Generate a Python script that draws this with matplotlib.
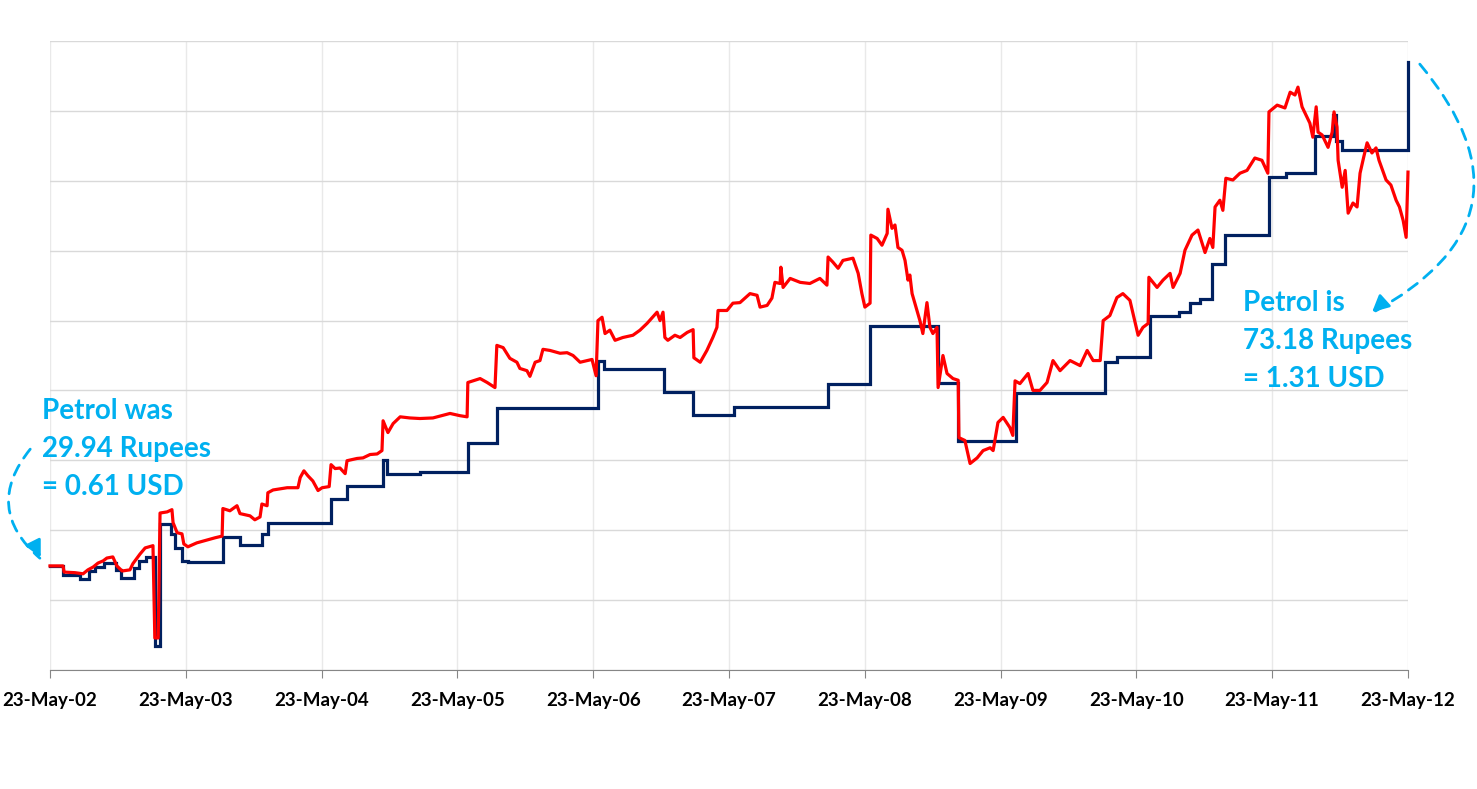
import numpy as np
import pandas as pd
import matplotlib.pyplot as plt
import matplotlib.dates as mdates
from matplotlib.patches import FancyArrowPatch

plt.rcParams['font.family'] = ['Lato', 'DejaVu Sans']

# petrol price in Delhi, Rupees per litre (step changes)
rs_dates = ['2002-05-23', '2002-06-27', '2002-08-12', '2002-09-05', '2002-09-21',
            '2002-10-15', '2002-11-17', '2002-11-30', '2003-01-04', '2003-01-17',
            '2003-02-05', '2003-03-01', '2003-03-15', '2003-04-13', '2003-04-24',
            '2003-05-13', '2003-05-29', '2003-08-31', '2003-10-16', '2003-12-14',
            '2003-12-30', '2004-06-17', '2004-07-30', '2004-11-04', '2004-11-15',
            '2005-02-12', '2005-06-21', '2005-09-07', '2006-06-06', '2006-06-20',
            '2006-11-30', '2007-02-16', '2007-06-06', '2008-02-15', '2008-06-07',
            '2008-12-06', '2009-01-29', '2009-07-04', '2010-02-28', '2010-04-01',
            '2010-06-29', '2010-09-15', '2010-10-15', '2010-11-10', '2010-12-14',
            '2011-01-16', '2011-05-14', '2011-07-01', '2011-09-17', '2011-11-04',
            '2011-11-12', '2011-11-28', '2012-05-23']
rs_price = [29.94, 29.17, 28.83, 29.51, 29.85, 30.20, 29.60, 28.91, 29.77, 30.37,
            30.71, 23.09, 33.54, 32.68, 31.48, 30.37, 30.28, 32.42, 31.74, 32.68,
            33.62, 35.67, 36.79, 39.01, 37.82, 37.99, 40.47, 43.46, 47.49, 46.80,
            44.83, 42.87, 43.55, 45.52, 50.57, 45.60, 40.64, 44.75, 47.40, 47.83,
            51.43, 51.77, 52.54, 52.88, 55.88, 58.36, 63.32, 63.67, 66.84, 68.63,
            66.41, 65.64, 73.18]

# same price in USD, days after 23-May-2002
usd_days = [0, 35, 38, 67, 89, 102, 116, 129, 143, 153, 169, 180, 194, 215, 223, 234,
            242, 256, 277, 282, 291, 296, 315, 328, 331, 342, 355, 360, 371, 395, 422,
            444, 463, 465, 484, 503, 511, 538, 551, 565, 570, 584, 586, 600, 638, 667,
            673, 683, 694, 707, 721, 732, 751, 756, 767, 780, 794, 799, 826, 842, 861,
            880, 893, 896, 909, 923, 942, 968, 995, 1030, 1076, 1103, 1122, 1124, 1157,
            1176, 1197, 1202, 1219, 1237, 1256, 1264, 1283, 1291, 1305, 1318, 1326,
            1345, 1372, 1391, 1407, 1426, 1445, 1458, 1469, 1474, 1485, 1493, 1506,
            1520, 1541, 1568, 1587, 1606, 1633, 1641, 1649, 1654, 1662, 1681, 1695,
            1714, 1730, 1732, 1749, 1767, 1783, 1794, 1797, 1821, 1837, 1856, 1883,
            1902, 1910, 1929, 1942, 1950, 1964, 1966, 1972, 1991, 2018, 2044, 2071,
            2090, 2093, 2106, 2120, 2133, 2160, 2174, 2184, 2192, 2206, 2208, 2225,
            2238, 2252, 2254, 2265, 2273, 2281, 2292, 2300, 2308, 2313, 2319, 2332,
            2340, 2348, 2359, 2367, 2375, 2386, 2389, 2402, 2413, 2429, 2443, 2445,
            2461, 2475, 2494, 2510, 2529, 2537, 2550, 2564, 2582, 2590, 2596, 2609,
            2631, 2644, 2663, 2682, 2698, 2717, 2744, 2771, 2790, 2806, 2825, 2833,
            2851, 2870, 2886, 2905, 2919, 2927, 2940, 2954, 2956, 2978, 2994, 3013,
            3021, 3040, 3053, 3072, 3088, 3107, 3120, 3128, 3134, 3147, 3155, 3163,
            3182, 3201, 3220, 3241, 3260, 3276, 3279, 3301, 3322, 3336, 3349, 3357,
            3368, 3381, 3389, 3397, 3406, 3411, 3422, 3438, 3449, 3454, 3462, 3465,
            3476, 3484, 3492, 3505, 3516, 3524, 3534, 3543, 3556, 3567, 3575, 3594,
            3607, 3621, 3630, 3640, 3648, 3653]
usd_price = [0.610, 0.610, 0.599, 0.598, 0.596, 0.603, 0.608, 0.615, 0.619, 0.624,
             0.626, 0.610, 0.601, 0.603, 0.614, 0.624, 0.631, 0.642, 0.646, 0.482,
             0.482, 0.704, 0.706, 0.710, 0.687, 0.669, 0.667, 0.649, 0.644, 0.651,
             0.656, 0.660, 0.663, 0.712, 0.708, 0.717, 0.703, 0.699, 0.692, 0.697,
             0.720, 0.717, 0.740, 0.745, 0.749, 0.749, 0.767, 0.779, 0.770, 0.761,
             0.744, 0.749, 0.751, 0.790, 0.783, 0.784, 0.774, 0.797, 0.801, 0.802,
             0.808, 0.809, 0.815, 0.868, 0.847, 0.863, 0.875, 0.873, 0.872, 0.873,
             0.881, 0.877, 0.875, 0.936, 0.943, 0.936, 0.927, 1.002, 0.998, 0.979,
             0.972, 0.961, 0.957, 0.947, 0.972, 0.975, 0.995, 0.993, 0.988, 0.989,
             0.984, 0.972, 0.975, 0.977, 0.948, 1.046, 1.052, 1.023, 1.029, 1.011,
             1.016, 1.020, 1.029, 1.041, 1.061, 1.046, 1.061, 1.016, 1.011, 1.020,
             1.016, 1.025, 1.030, 0.980, 0.972, 0.993, 1.016, 1.034, 1.064, 1.064,
             1.077, 1.078, 1.094, 1.091, 1.070, 1.073, 1.086, 1.114, 1.112, 1.141,
             1.105, 1.121, 1.114, 1.112, 1.121, 1.109, 1.159, 1.150, 1.139, 1.153,
             1.157, 1.130, 1.094, 1.070, 1.077, 1.198, 1.192, 1.180, 1.201, 1.244,
             1.210, 1.216, 1.176, 1.171, 1.153, 1.118, 1.127, 1.094, 1.064, 1.046,
             1.023, 1.078, 1.034, 1.023, 1.034, 0.927, 0.984, 0.952, 0.943, 0.940,
             0.838, 0.833, 0.792, 0.802, 0.815, 0.820, 0.815, 0.865, 0.874, 0.856,
             0.842, 0.939, 0.934, 0.952, 0.922, 0.922, 0.936, 0.975, 0.957, 0.975,
             0.966, 0.993, 0.975, 0.975, 1.046, 1.055, 1.087, 1.094, 1.082, 1.043,
             1.020, 1.034, 1.041, 1.123, 1.105, 1.118, 1.130, 1.105, 1.130, 1.171,
             1.198, 1.207, 1.167, 1.192, 1.176, 1.248, 1.260, 1.242, 1.299, 1.296,
             1.308, 1.313, 1.335, 1.331, 1.308, 1.417, 1.429, 1.424, 1.452, 1.447,
             1.461, 1.426, 1.408, 1.397, 1.372, 1.426, 1.381, 1.376, 1.354, 1.381,
             1.417, 1.390, 1.331, 1.283, 1.313, 1.237, 1.255, 1.248, 1.308, 1.337,
             1.362, 1.344, 1.353, 1.331, 1.296, 1.287, 1.260, 1.248, 1.224, 1.194,
             1.310]

start = pd.Timestamp('2002-05-23')
rs_x = pd.to_datetime(rs_dates)
usd_x = start + pd.to_timedelta(usd_days, unit='D')
year_ticks = [pd.Timestamp(f'{y}-05-23') for y in range(2002, 2013)]

W, H = 1477, 789
fig = plt.figure(figsize=(W / 100, H / 100), dpi=100)
ax = fig.add_axes([50 / W, 1 - 670 / H, 1358 / W, 629 / H])

ax.plot(rs_x, rs_price, drawstyle='steps-post', color='#002060', lw=2.3,
        solid_joinstyle='miter', clip_on=False)
ax.set_xlim(start, year_ticks[-1])
ax.set_ylim(21, 75)
ax.set_yticks(np.arange(21, 76, 6))
ax.set_yticklabels([])
ax.tick_params(axis='y', length=0)
ax.set_xticks(year_ticks)
ax.xaxis.set_major_formatter(mdates.DateFormatter('%d-%b-%y'))
ax.tick_params(axis='x', length=6, color='#868686', pad=10, labelsize=13.5)
for lab in ax.get_xticklabels():
    lab.set_fontweight('bold')
ax.grid(True, axis='y', color='#d9d9d9', lw=1)
ax.grid(True, axis='x', color='#e9e9e9', lw=1)
ax.set_axisbelow(True)
for s in ['top', 'right', 'left']:
    ax.spines[s].set_visible(False)
ax.spines['bottom'].set_color('#868686')

ax2 = ax.twinx()
ax2.plot(usd_x, usd_price, color='#ff0000', lw=2.3, clip_on=False)
ax2.set_ylim(0.425, 1.543)
ax2.set_yticks([])
for s in ax2.spines.values():
    s.set_visible(False)

blue = '#00b0f0'
txt = dict(color=blue, fontsize=20, fontweight='bold', va='center', ha='left')
for i, line in enumerate(['Petrol was', '29.94 Rupees', '= 0.61 USD']):
    fig.text(42 / W, 1 - (411 + 38 * i) / H, line, **txt)
for i, line in enumerate(['Petrol is', '73.18 Rupees', '= 1.31 USD']):
    fig.text(1243 / W, 1 - (303 + 38 * i) / H, line, **txt)


def curved(p0, p1, rad, head_from):
    fig.add_artist(FancyArrowPatch(
        (p0[0], H - p0[1]), (p1[0], H - p1[1]), transform=None,
        connectionstyle=f'arc3,rad={rad}', arrowstyle='-', color=blue,
        lw=2, linestyle=(0, (4, 3))))
    fig.add_artist(FancyArrowPatch(
        (head_from[0], H - head_from[1]), (p1[0], H - p1[1]), transform=None,
        arrowstyle='-|>,head_length=10,head_width=5', color=blue, lw=2,
        mutation_scale=1))


curved((32, 447), (42, 560), 0.5, (37, 550))
curved((1418, 62), (1370, 314), -0.62, (1380, 305))

fig.savefig('out.png', dpi=100)
